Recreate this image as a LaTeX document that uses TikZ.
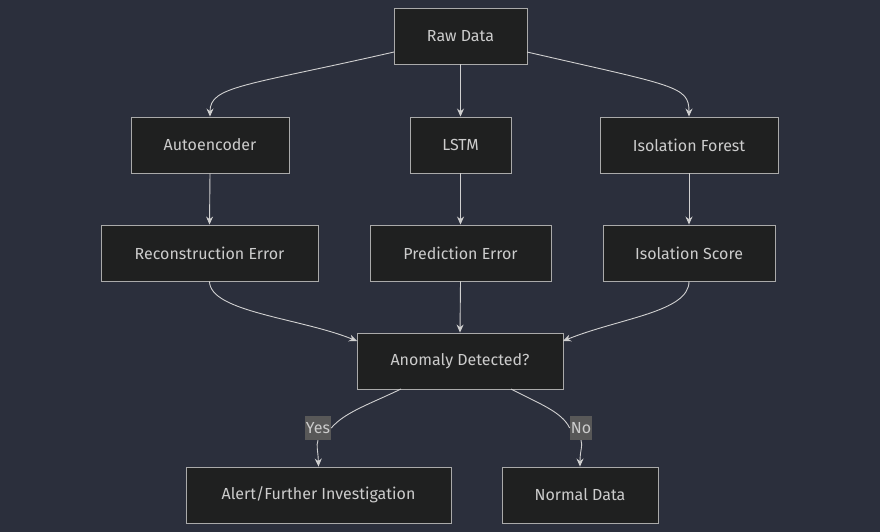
\documentclass[tikz,border=0pt]{standalone}
\usepackage{fontspec}
\setmainfont{Fira Sans}
\usetikzlibrary{arrows.meta}
\definecolor{bg}{HTML}{2B2F3C}
\definecolor{nodefill}{HTML}{1F2020}
\definecolor{nodeline}{HTML}{AAAAAA}
\definecolor{txt}{HTML}{CCCCCC}
\definecolor{edge}{HTML}{D0D0D0}
\definecolor{lblbg}{HTML}{585858}
\begin{document}
\begin{tikzpicture}[x=1pt,y=-1pt,
  box/.style={draw=nodeline,fill=nodefill,text=txt,line width=0.9pt,inner sep=0pt,font=\fontsize{16}{19}\selectfont},
  conn/.style={draw=edge,line width=0.9pt,-{Stealth[length=8pt,width=7pt]}},
  lbl/.style={fill=lblbg,text=txt,inner sep=1pt,minimum height=24pt,font=\fontsize{16}{19}\selectfont}]
\fill[bg] (0,0) rectangle (880,532);
\useasboundingbox (0,0) rectangle (880,532);
\node[box,minimum width=133pt,minimum height=56pt] (raw) at (460.5,36) {Raw Data};
\node[box,minimum width=158pt,minimum height=56pt] (ae) at (210,145) {Autoencoder};
\node[box,minimum width=101pt,minimum height=56pt] (lstm) at (460.5,145) {LSTM};
\node[box,minimum width=178pt,minimum height=56pt] (if) at (689,145) {Isolation Forest};
\node[box,minimum width=217pt,minimum height=56pt] (re) at (209.5,253) {Reconstruction Error};
\node[box,minimum width=181pt,minimum height=56pt] (pe) at (460.5,253) {Prediction Error};
\node[box,minimum width=172pt,minimum height=56pt] (is) at (689,253) {Isolation Score};
\node[box,minimum width=206pt,minimum height=56pt] (ad) at (460,361) {Anomaly Detected?};
\node[box,minimum width=265pt,minimum height=56pt] (alert) at (318.5,495) {Alert/Further Investigation};
\node[box,minimum width=156pt,minimum height=56pt] (norm) at (580,495) {Normal Data};
\coordinate (rawL) at (394,52);
\coordinate (rawR) at (527,52);
\draw[conn] (rawL) .. controls (245,86) and (210,86) .. (ae.north);
\draw[conn] (raw.south) -- (lstm.north);
\draw[conn] (rawR) .. controls (675,86) and (689,86) .. (if.north);
\draw[conn] (ae.south) -- (re.north);
\draw[conn] (lstm.south) -- (pe.north);
\draw[conn] (if.south) -- (is.north);
\coordinate (adL) at (357,341);
\coordinate (adR) at (563,341);
\draw[conn] (re.south) .. controls (210,312) and (300,318) .. (adL);
\draw[conn] (pe.south) -- (ad.north);
\draw[conn] (is.south) .. controls (689,312) and (620,318) .. (adR);
\coordinate (adBL) at (401,389);
\coordinate (adBR) at (511,389);
\node[lbl] (yes) at (318,428) {Yes};
\node[lbl] (no) at (581,428) {No};
\draw[draw=edge,line width=0.9pt] (adBL) .. controls (370,404) and (345,412) .. (yes.east);
\draw[conn] (yes.south) .. controls (316,446) and (318,450) .. (alert.north);
\draw[draw=edge,line width=0.9pt] (adBR) .. controls (540,404) and (562,412) .. (no.west);
\draw[conn] (no.south) .. controls (583,446) and (580,450) .. (norm.north);
\end{tikzpicture}
\end{document}
